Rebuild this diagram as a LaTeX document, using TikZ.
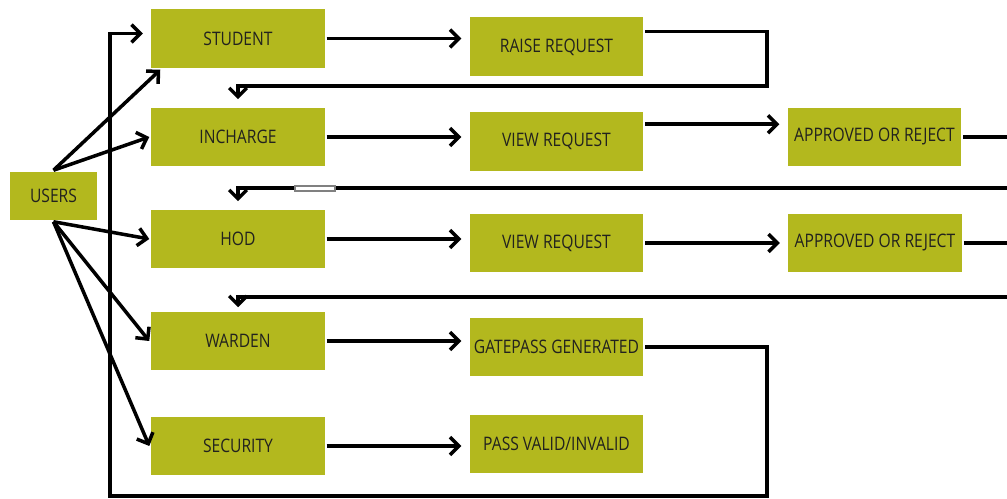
\documentclass[tikz,border=0pt]{standalone}
\usepackage{fontspec}
\setmainfont{Open Sans}[FakeStretch=0.84]
\usetikzlibrary{arrows.meta,positioning,calc}
\definecolor{box-olive}{HTML}{B3B81E}
\definecolor{box-text}{HTML}{22221E}
\tikzset{
    box/.style={fill=box-olive, text=box-text, minimum width=3.48cm, minimum height=1.18cm, inner sep=0pt, font=\fontsize{10.6}{12}\selectfont},
    flow/.style={->, shorten >=0.13cm}
}

\begin{document}
\begin{tikzpicture}[x=0.02cm, y=-0.02cm, line width=2pt, >={Straight Barb[length=5pt,width=10pt]}]
    \useasboundingbox (0,0) rectangle (1007,499);

    % first column
    \node[box, minimum width=1.74cm, minimum height=0.96cm] (users) at (53.5,196) {USERS};
    \node[box] (student) at (238,38.5) {STUDENT};
    \node[box] (incharge) at (238,137) {INCHARGE};
    \node[box] (hod) at (238,239) {HOD};
    \node[box] (warden) at (238,341) {WARDEN};
    \node[box] (security) at (238,446) {SECURITY};

    % second column
    \node[box] (raise) at (556.5,47) {RAISE REQUEST};
    \node[box] (view1) at (556.5,141.5) {VIEW REQUEST};
    \node[box] (view2) at (556.5,243) {VIEW REQUEST};
    \node[box] (gate) at (556.5,347) {GATEPASS GENERATED};
    \node[box] (pass) at (556.5,444) {PASS VALID/INVALID};

    % third column
    \node[box] (app1) at (874.5,137) {APPROVED OR REJECT};
    \node[box] (app2) at (875,243) {APPROVED OR REJECT};

    % users to roles
    \draw[->] (users.north) -- ($(student.south west)+(11,0)$);
    \draw[->] (users.north) -- (incharge.west);
    \draw[->] (users.south) -- (hod.west);
    \draw[->] (users.south) -- (warden.west);
    \draw[->] (users.south) -- (security.west);

    % straight flows
    \draw[flow] (student.east) -- (student.east -| raise.west);
    \draw[flow] (incharge.east) -- (incharge.east -| view1.west);
    \draw[flow] ($(view1.north east)+(0,14)$) -- ($(view1.north east -| app1.west)+(0,14)$);
    \draw[flow] (hod.east) -- (hod.east -| view2.west);
    \draw[flow] (view2.east) -- (view2.east -| app2.west);
    \draw[flow] (warden.east) -- (warden.east -| gate.west);
    \draw[flow] (security.east) -- (security.east -| pass.west);

    % loops back
    \coordinate (r1) at (767,86);
    \draw[flow] ($(raise.north east)+(0,16)$) -| (r1) -| (incharge.north);

    \coordinate (e1) at (1007,137);
    \coordinate (e1b) at (1007,188);
    \draw (app1.east) -- (e1);
    \draw[flow] (e1b) -| (hod.north);
    \draw[gray, line width=0.6pt, fill=white] (295,186) rectangle (335,191);

    \coordinate (e2) at (1007,245);
    \coordinate (e2b) at (1007,297);
    \draw (app2.east) -- (app2.east -| e2);
    \draw[->, shorten >=0.05cm] (e2b) -| (warden.north);

    \coordinate (g1) at (767,496);
    \coordinate (g2) at (110,496);
    \draw[flow] (gate.east) -| (g1) -- (g2) |- ($(student.west)+(0,-5)$);

\end{tikzpicture}
\end{document}
